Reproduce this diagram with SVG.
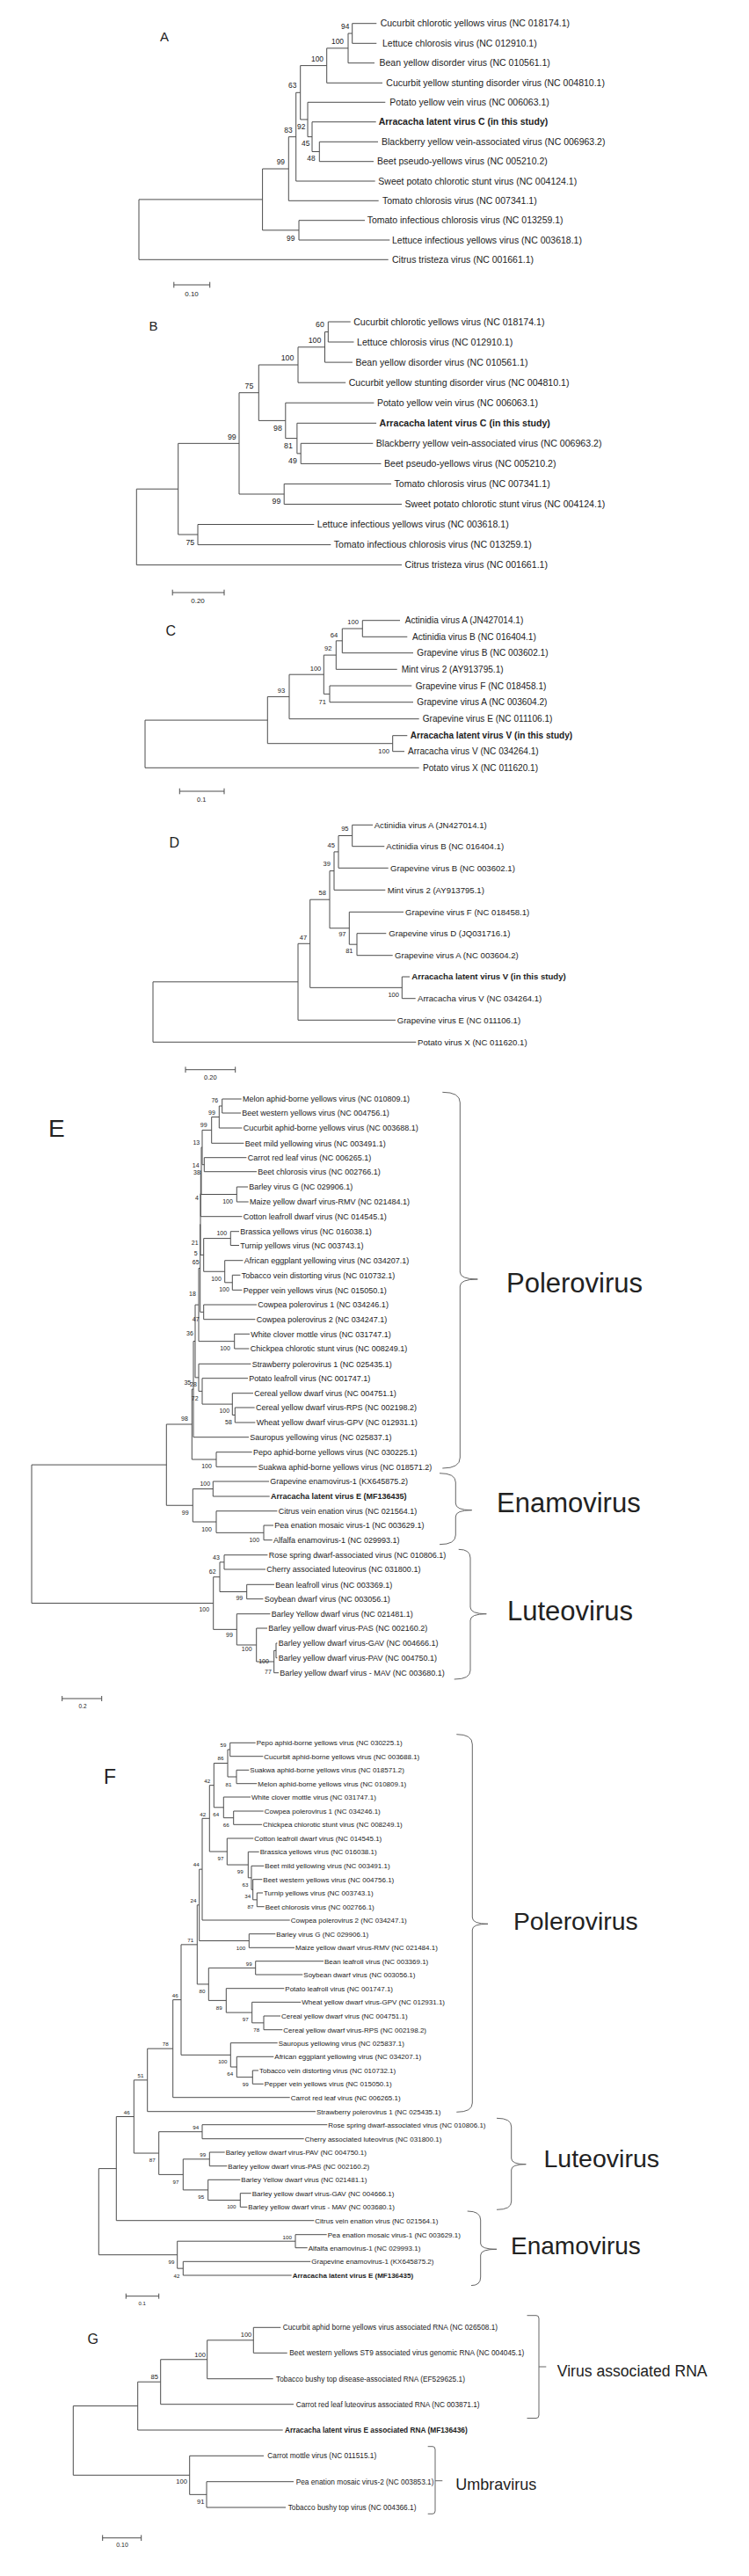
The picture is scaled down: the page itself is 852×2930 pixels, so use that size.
<svg xmlns="http://www.w3.org/2000/svg" width="852" height="2930" viewBox="0 0 852 2930">
<style>
text{font-family:"Liberation Sans",Arial,sans-serif;fill:#222}
.br{fill:none;stroke:#4d4d4d;stroke-width:1}
.bk{fill:none;stroke:#666;stroke-width:1}
.pl{font-size:15px}
.bs{text-anchor:middle;fill:#444}
.b{font-weight:bold}
.cl{fill:#111}
</style>
<rect width="852" height="2930" fill="#fff"/>

<!-- ===== Panel A ===== -->
<g id="panel-A">
<text class="pl" x="187" y="47" text-anchor="middle">A</text>
<g id="A-connectors"><path class="br" d="M400.7,26.7H428.3M400.7,49.3H428.3M400.7,26.7V49.3M396,38H400.7M396,38V71.7M396,71.7H426M371.7,54.85H396M371.7,54.85V94.3M371.7,94.3H435M341.7,74.6H371.7M363.3,161.3H430M363.3,183.7H425M363.3,161.3V183.7M355,172.5H363.3M355,138.7H427.7M355,138.7V172.5M350,155.6H355M350,116.3H438.3M350,116.3V155.6M341.7,135.95H350M341.7,74.6V135.95M336.7,105.3H341.7M336.7,105.3V206M336.7,206H426.7M328.3,155.65H336.7M328.3,155.65V228.3M328.3,228.3H430.7M298.6,192H328.3M340,250.7H415M340,273H443.3M340,250.7V273M298.6,261.85H340M298.6,192V261.85M158,226.9H298.6M158,226.9V295.3M158,295.3H441.7"/></g>
<g id="A-leaves" font-size="10.5">
<text x="432.7" y="30.4">Cucurbit chlorotic yellows virus (NC 018174.1)</text>
<text x="435" y="53">Lettuce chlorosis virus (NC 012910.1)</text>
<text x="431.5" y="75.4">Bean yellow disorder virus (NC 010561.1)</text>
<text x="439.3" y="98">Cucurbit yellow stunting disorder virus (NC 004810.1)</text>
<text x="443.3" y="120">Potato yellow vein virus (NC 006063.1)</text>
<text class="b" x="430.7" y="142.4">Arracacha latent virus C (in this study)</text>
<text x="434" y="165">Blackberry yellow vein-associated virus (NC 006963.2)</text>
<text x="429" y="187.4">Beet pseudo-yellows virus (NC 005210.2)</text>
<text x="430.3" y="209.7">Sweet potato chlorotic stunt virus (NC 004124.1)</text>
<text x="435" y="232">Tomato chlorosis virus (NC 007341.1)</text>
<text x="417.7" y="254.4">Tomato infectious chlorosis virus (NC 013259.1)</text>
<text x="446" y="276.7">Lettuce infectious yellows virus (NC 003618.1)</text>
<text x="446" y="299">Citrus tristeza virus (NC 001661.1)</text>
</g>
<g id="A-bootstrap" class="bs" font-size="8.4">
<text x="392.7" y="32.9">94</text><text x="384" y="50.2">100</text><text x="361" y="69.6">100</text><text x="332.7" y="100.2">63</text><text x="342.7" y="146.9">92</text><text x="328" y="150.6">83</text><text x="347.7" y="166.2">45</text><text x="354" y="182.9">48</text><text x="319.3" y="186.9">99</text><text x="330.7" y="273.6">99</text>
</g>
<g id="A-scale"><path class="br" d="M197.8,324H238.7M197.8,320.7V327.3M238.7,320.7V327.3"/><text x="218" y="337" font-size="8" text-anchor="middle">0.10</text></g>
</g>

<!-- ===== Panel B ===== -->
<g id="panel-B">
<text class="pl" x="174.4" y="376.4" text-anchor="middle">B</text>
<g id="B-connectors"><path class="br" d="M373.3,366H398.7M373.3,389H402.5M373.3,366V389M369.5,377.5H373.3M369.5,377.5V412.1M369.5,412.1H400.9M339,394.8H369.5M339,394.8V435.2M339,435.2H393.2M294.3,415H339M342.2,504.3H424.3M342.2,527.4H433.5M342.2,504.3V527.4M337.9,515.85H342.2M337.9,481.3H428.1M337.9,481.3V515.85M324.8,498.6H337.9M324.8,458.2H425.4M324.8,458.2V498.6M294.3,478.4H324.8M294.3,415V478.4M272,446.7H294.3M323.2,550.4H445M323.2,573.5H457M323.2,550.4V573.5M272,562H323.2M272,446.7V562M202.7,504.35H272M225,596.5H357.3M225,619.6H376.3M225,596.5V619.6M202.7,608H225M202.7,504.35V608M155.3,556.2H202.7M155.3,556.2V642.6M155.3,642.6H457"/></g>
<g id="B-leaves" font-size="10.6">
<text x="402.2" y="369.7">Cucurbit chlorotic yellows virus (NC 018174.1)</text>
<text x="406" y="392.7">Lettuce chlorosis virus (NC 012910.1)</text>
<text x="404.4" y="415.8">Bean yellow disorder virus (NC 010561.1)</text>
<text x="396.7" y="438.9">Cucurbit yellow stunting disorder virus (NC 004810.1)</text>
<text x="428.9" y="461.9">Potato yellow vein virus (NC 006063.1)</text>
<text class="b" x="431.6" y="485">Arracacha latent virus C (in this study)</text>
<text x="427.8" y="508">Blackberry yellow vein-associated virus (NC 006963.2)</text>
<text x="437" y="531.1">Beet pseudo-yellows virus (NC 005210.2)</text>
<text x="448.5" y="554.1">Tomato chlorosis virus (NC 007341.1)</text>
<text x="460.5" y="577.2">Sweet potato chlorotic stunt virus (NC 004124.1)</text>
<text x="360.8" y="600.2">Lettuce infectious yellows virus (NC 003618.1)</text>
<text x="379.8" y="623.3">Tomato infectious chlorosis virus (NC 013259.1)</text>
<text x="460.5" y="646.3">Citrus tristeza virus (NC 001661.1)</text>
</g>
<g id="B-bootstrap" class="bs" font-size="8.8">
<text x="364" y="372.1">60</text><text x="358" y="389.8">100</text><text x="327" y="409.8">100</text><text x="283.4" y="442.1">75</text><text x="316" y="489.8">98</text><text x="328" y="510.4">81</text><text x="333" y="527.1">49</text><text x="314.4" y="573.4">99</text><text x="263.8" y="499.8">99</text><text x="216.3" y="619.8">75</text>
</g>
<g id="B-scale"><path class="br" d="M196.2,674H255M196.2,670.7V677.3M255,670.7V677.3"/><text x="225" y="685.5" font-size="8" text-anchor="middle">0.20</text></g>
</g>

<!-- ===== Panel C ===== -->
<g id="panel-C">
<text x="194.3" y="723.4" font-size="16" text-anchor="middle">C</text>
<g id="C-connectors"><path class="br" d="M412.3,705.7H455M412.3,724.3H463.3M412.3,705.7V724.3M389.3,715H412.3M389.3,715V742.7M389.3,742.7H470M382.3,728.85H389.3M382.3,728.85V761.3M382.3,761.3H451.7M368.3,745.1H382.3M375,780H468.3M375,798.7H470M375,780V798.7M368.3,789.35H375M368.3,745.1V789.35M329,767.2H368.3M329,767.2V817.7M329,817.7H476.7M304.3,792.45H329M446.7,836.7H463.3M446.7,854.7H460M446.7,836.7V854.7M304.3,845.7H446.7M304.3,792.45V845.7M165,819.1H304.3M165,819.1V873.3M165,873.3H476.7"/></g>
<g id="C-leaves" font-size="10.1">
<text x="460.7" y="709.2">Actinidia virus A (JN427014.1)</text>
<text x="469" y="727.8">Actinidia virus B (NC 016404.1)</text>
<text x="474.3" y="746.2">Grapevine virus B (NC 003602.1)</text>
<text x="456.7" y="764.8">Mint virus 2 (AY913795.1)</text>
<text x="472.7" y="783.5">Grapevine virus F (NC 018458.1)</text>
<text x="474.3" y="802.2">Grapevine virus A (NC 003604.2)</text>
<text x="480.7" y="821.2">Grapevine virus E (NC 011106.1)</text>
<text class="b" x="466.7" y="840.2">Arracacha latent virus V (in this study)</text>
<text x="464" y="858.2">Arracacha virus V (NC 034264.1)</text>
<text x="481" y="876.8">Potato virus X (NC 011620.1)</text>
</g>
<g id="C-bootstrap" class="bs" font-size="7.6">
<text x="401.7" y="710">100</text><text x="380" y="724.7">64</text><text x="373.3" y="740.4">92</text><text x="359" y="762.7">100</text><text x="320" y="787.7">93</text><text x="366.7" y="801">71</text><text x="436.7" y="857">100</text>
</g>
<g id="C-scale"><path class="br" d="M204.3,900H255M204.3,896.7V903.3M255,896.7V903.3"/><text x="229.3" y="911.6" font-size="7.5" text-anchor="middle">0.1</text></g>
</g>

<!-- ===== Panel D ===== -->
<g id="panel-D">
<text x="198.3" y="964" font-size="16" text-anchor="middle">D</text>
<g id="D-connectors"><path class="br" d="M400.7,938.3H424M400.7,962.7H437.3M400.7,938.3V962.7M385,950.5H400.7M385,950.5V987.3M385,987.3H441.7M380,968.9H385M380,968.9V1012.3M380,1012.3H438.3M375,990.6H380M406,1061.7H439.3M406,1086.7H446.7M406,1061.7V1086.7M397.3,1074.2H406M397.3,1037.3H459M397.3,1037.3V1074.2M375,1055.75H397.3M375,990.6V1055.75M352.7,1023.2H375M457.3,1111H466M457.3,1135.7H472.7M457.3,1111V1135.7M352.7,1123.35H457.3M352.7,1023.2V1123.35M339,1073.3H352.7M339,1073.3V1160.3M339,1160.3H450M174,1116.8H339M174,1116.8V1185.3M174,1185.3H473.3"/></g>
<g id="D-leaves" font-size="9.6">
<text x="425.7" y="941.7">Actinidia virus A (JN427014.1)</text>
<text x="439.3" y="966.1">Actinidia virus B (NC 016404.1)</text>
<text x="444" y="990.7">Grapevine virus B (NC 003602.1)</text>
<text x="440.7" y="1015.7">Mint virus 2 (AY913795.1)</text>
<text x="461" y="1040.7">Grapevine virus F (NC 018458.1)</text>
<text x="442.3" y="1065.1">Grapevine virus D (JQ031716.1)</text>
<text x="449" y="1090.1">Grapevine virus A (NC 003604.2)</text>
<text class="b" x="468.3" y="1114.4">Arracacha latent virus V (in this study)</text>
<text x="475" y="1139.1">Arracacha virus V (NC 034264.1)</text>
<text x="451.7" y="1163.7">Grapevine virus E (NC 011106.1)</text>
<text x="475" y="1188.7">Potato virus X (NC 011620.1)</text>
</g>
<g id="D-bootstrap" class="bs" font-size="7.5">
<text x="392.3" y="945.3">95</text><text x="376.7" y="964.3">45</text><text x="371.7" y="985.3">39</text><text x="366.7" y="1018.3">58</text><text x="389.3" y="1065.3">97</text><text x="397.3" y="1084.3">81</text><text x="345" y="1068.6">47</text><text x="447.7" y="1133.6">100</text>
</g>
<g id="D-scale"><path class="br" d="M211,1216.7H267.7M211,1213.4V1220M267.7,1213.4V1220"/><text x="239.3" y="1227.6" font-size="7.5" text-anchor="middle">0.20</text></g>
</g>

<!-- ===== Panel E ===== -->
<g id="panel-E">
<text x="64.3" y="1292.7" font-size="28" text-anchor="middle">E</text>
<g id="E-connectors"><path class="br" d="M252.7,1250H274.7M252.7,1266H274M249.3,1283H275.4M240.7,1300.3H277.4M232.3,1316.7H280.4M232.3,1332.7H292M269.3,1350H282M269.3,1367H282.7M228.3,1383.7H275.4M262.3,1400.7H272M262.3,1416.5H272M255.7,1433.7H276.4M264.3,1450.3H273.4M264.3,1467.3H275.4M231.7,1484H292M231.7,1500.7H290.4M266.7,1517.3H284M266.7,1534H283.4M226,1551.3H285.4M230,1567.7H282M264.3,1584.7H288M267.3,1601H289.7M267.3,1618H290.4M220,1634.7H283M246,1651.7H286.7M246,1668.3H292.4M242.3,1685H306M242.3,1702H306.7M246,1718.7H315.4M300,1735H311M300,1751.7H309.7M255,1768.7H304.4M255,1785H302M280.7,1802.3H312M280.7,1818.7H299.4M269.3,1835.7H307.4M291.7,1852H304M314,1869H315.4M314,1885.7H315.4M311.7,1902.7H317M252.7,1250V1266M249.3,1258H252.7M249.3,1258V1283M240.7,1270.5H249.3M240.7,1270.5V1300.3M230,1285.4H240.7M232.3,1316.7V1332.7M230,1324.7H232.3M230,1285.4V1324.7M229,1305.05H230M269.3,1350V1367M229,1358.5H269.3M229,1305.05V1358.5M228.3,1331.8H229M228.3,1331.8V1383.7M228,1357.75H228.3M262.3,1400.7V1416.5M231.7,1408.6H262.3M264.3,1450.3V1467.3M255.7,1458.8H264.3M255.7,1433.7V1458.8M231.7,1446.25H255.7M231.7,1408.6V1446.25M228,1427.4H231.7M228,1357.75V1427.4M227.7,1392.6H228M231.7,1484V1500.7M227.7,1492.35H231.7M227.7,1392.6V1492.35M226,1442.5H227.7M266.7,1517.3V1534M226,1525.65H266.7M226,1442.5V1525.65M222,1484.1H226M267.3,1601V1618M264.3,1609.5H267.3M264.3,1584.7V1609.5M230,1597.1H264.3M230,1567.7V1597.1M226,1582.4H230M226,1551.3V1582.4M222,1566.85H226M222,1484.1V1566.85M220,1525.5H222M220,1525.5V1634.7M218.3,1580.1H220M246,1651.7V1668.3M218.3,1660H246M218.3,1580.1V1660M189.3,1620H218.3M242.3,1685V1702M219.3,1693.5H242.3M300,1735V1751.7M246,1743.35H300M246,1718.7V1743.35M219.3,1731H246M219.3,1693.5V1731M189.3,1712.25H219.3M189.3,1620V1712.25M36,1666.1H189.3M255,1768.7V1785M250,1776.85H255M280.7,1802.3V1818.7M250,1810.5H280.7M250,1776.85V1810.5M242.7,1793.7H250M314,1869V1885.7M311.7,1877.35H314M311.7,1877.35V1902.7M291.7,1890H311.7M291.7,1852V1890M269.3,1871H291.7M269.3,1835.7V1871M242.7,1853.35H269.3M242.7,1793.7V1853.35M36,1823.5H242.7M36,1666.1V1823.5"/>
<path class="bk" d="M503.3,1242.3Q523.3,1242.3 523.3,1254V1447Q523.3,1455 543.3,1455Q523.3,1455 523.3,1463V1658Q523.3,1670 503.3,1670M500,1675.7Q518.3,1675.7 518.3,1686V1710Q518.3,1717.7 536.7,1717.7Q518.3,1717.7 518.3,1725V1746Q518.3,1756.7 500,1756.7M521.7,1762.3Q535,1762.3 535,1772V1828Q535,1835.7 553.3,1835.7Q535,1835.7 535,1843V1900Q535,1910 516.7,1910"/></g>
<g id="E-leaves" font-size="9">
<text x="276" y="1253.2">Melon aphid-borne yellows virus (NC 010809.1)</text>
<text x="275.3" y="1269.2">Beet western yellows virus (NC 004756.1)</text>
<text x="276.7" y="1286.2">Cucurbit aphid-borne yellows virus (NC 003688.1)</text>
<text x="278.7" y="1303.5">Beet mild yellowing virus (NC 003491.1)</text>
<text x="281.7" y="1319.9">Carrot red leaf virus (NC 006265.1)</text>
<text x="293.3" y="1335.9">Beet chlorosis virus (NC 002766.1)</text>
<text x="283.3" y="1353.2">Barley virus G (NC 029906.1)</text>
<text x="284" y="1370.2">Maize yellow dwarf virus-RMV (NC 021484.1)</text>
<text x="276.7" y="1386.9">Cotton leafroll dwarf virus (NC 014545.1)</text>
<text x="273.3" y="1403.9">Brassica yellows virus (NC 016038.1)</text>
<text x="273.3" y="1419.7">Turnip yellows virus (NC 003743.1)</text>
<text x="277.7" y="1436.9">African eggplant yellowing virus (NC 034207.1)</text>
<text x="274.7" y="1453.5">Tobacco vein distorting virus (NC 010732.1)</text>
<text x="276.7" y="1470.5">Pepper vein yellows virus (NC 015050.1)</text>
<text x="293.3" y="1487.2">Cowpea polerovirus 1 (NC 034246.1)</text>
<text x="291.7" y="1503.9">Cowpea polerovirus 2 (NC 034247.1)</text>
<text x="285.3" y="1520.5">White clover mottle virus (NC 031747.1)</text>
<text x="284.7" y="1537.2">Chickpea chlorotic stunt virus (NC 008249.1)</text>
<text x="286.7" y="1554.5">Strawberry polerovirus 1 (NC 025435.1)</text>
<text x="283.3" y="1570.9">Potato leafroll virus (NC 001747.1)</text>
<text x="289.3" y="1587.9">Cereal yellow dwarf virus (NC 004751.1)</text>
<text x="291" y="1604.2">Cereal yellow dwarf virus-RPS (NC 002198.2)</text>
<text x="291.7" y="1621.2">Wheat yellow dwarf virus-GPV (NC 012931.1)</text>
<text x="284.3" y="1637.9">Sauropus yellowing virus (NC 025837.1)</text>
<text x="288" y="1654.9">Pepo aphid-borne yellows virus (NC 030225.1)</text>
<text x="293.7" y="1671.5">Suakwa aphid-borne yellows virus (NC 018571.2)</text>
<text x="307.3" y="1688.2">Grapevine enamovirus-1 (KX645875.2)</text>
<text class="b" x="308" y="1705.2">Arracacha latent virus E (MF136435)</text>
<text x="316.7" y="1721.9">Citrus vein enation virus (NC 021564.1)</text>
<text x="312.3" y="1738.2">Pea enation mosaic virus-1 (NC 003629.1)</text>
<text x="311" y="1754.9">Alfalfa enamovirus-1 (NC 029993.1)</text>
<text x="305.7" y="1771.9">Rose spring dwarf-associated virus (NC 010806.1)</text>
<text x="303.3" y="1788.2">Cherry associated luteovirus (NC 031800.1)</text>
<text x="313.3" y="1805.5">Bean leafroll virus (NC 003369.1)</text>
<text x="300.7" y="1821.9">Soybean dwarf virus (NC 003056.1)</text>
<text x="308.7" y="1838.9">Barley Yellow dwarf virus (NC 021481.1)</text>
<text x="305.3" y="1855.2">Barley yellow dwarf virus-PAS (NC 002160.2)</text>
<text x="316.7" y="1872.2">Barley yellow dwarf virus-GAV (NC 004666.1)</text>
<text x="316.7" y="1888.9">Barley yellow dwarf virus-PAV (NC 004750.1)</text>
<text x="318.3" y="1905.9">Barley yellow dwarf virus - MAV (NC 003680.1)</text>
</g>
<g id="E-bootstrap" class="bs" font-size="7">
<text x="244.3" y="1254.2">76</text><text x="241" y="1267.5">99</text><text x="231.7" y="1281.5">99</text><text x="223.3" y="1301.5">13</text><text x="222.7" y="1328.2">14</text><text x="224" y="1335.8">38</text><text x="224" y="1365.2">4</text><text x="259" y="1369.2">100</text><text x="252.3" y="1404.8">100</text><text x="221.7" y="1415.8">21</text><text x="222.7" y="1427.5">5</text><text x="222.7" y="1437.5">65</text><text x="246" y="1456.5">100</text><text x="255" y="1469.2">100</text><text x="219" y="1474.2">18</text><text x="222.7" y="1503.2">47</text><text x="216" y="1518.5">36</text><text x="256" y="1535.8">100</text><text x="213.3" y="1574.8">35</text><text x="220" y="1576.8">28</text><text x="221.7" y="1593.2">72</text><text x="255.3" y="1606.8">100</text><text x="260" y="1619.8">58</text><text x="210" y="1616.2">98</text><text x="235" y="1669.8">100</text><text x="233.3" y="1689.8">100</text><text x="210.7" y="1722.5">99</text><text x="235" y="1741.8">100</text><text x="289.3" y="1754.2">100</text><text x="246" y="1773.5">43</text><text x="241.7" y="1789.8">62</text><text x="272.3" y="1820.2">99</text><text x="232.3" y="1833.2">100</text><text x="261" y="1861.8">99</text><text x="280.7" y="1877.5">100</text><text x="300" y="1891.5">100</text><text x="305" y="1904.2">77</text>
</g>
<g id="E-clades" class="cl">
<text x="576" y="1470" font-size="31">Polerovirus</text>
<text x="565" y="1720" font-size="31">Enamovirus</text>
<text x="577" y="1843.3" font-size="31">Luteovirus</text>
</g>
<g id="E-scale"><path class="br" d="M70.7,1932H115.7M70.7,1929V1935M115.7,1929V1935"/><text x="94" y="1943" font-size="6.5" text-anchor="middle">0.2</text></g>
</g>

<!-- ===== Panel F ===== -->
<g id="panel-F">
<text x="125" y="2028.5" font-size="23" text-anchor="middle">F</text>
<g id="F-connectors"><path class="br" d="M261.7,1982.3H290.7M261.7,1997.7H299.3M269,2013.3H283.3M269,2028.7H292.3M254.3,2044H285M265.7,2060H299.7M265.7,2075.3H298M258.3,2091H288.3M282.3,2106.3H294.7M286,2122.3H300.3M287.7,2137.7H298.3M292.3,2153H299M292.3,2168.7H300.7M230,2184H329.7M283.3,2199.7H313.3M283.3,2215.3H335M290.7,2230.7H368M290.7,2246H344.3M257.3,2261.7H323.3M286.7,2277.3H342.3M300,2293H319M300,2308.7H321.3M262.3,2323.7H315.7M269.3,2339.3H311.3M287.3,2355H294M287.3,2370.3H299.7M196.7,2385.7H329.7M167.7,2401.7H359M230,2416.7H372.3M230,2432.7H345.7M238.3,2448H255.7M238.3,2463.7H258.3M236.7,2479.3H273.3M273.3,2494.7H285.7M273.3,2510.3H281.3M132.3,2525.7H357.3M336,2541.7H371.7M336,2556.7H349.7M208.3,2572.3H353.3M208.3,2588H331.7M261.7,1982.3V1997.7M259,1990H261.7M269,2013.3V2028.7M259,2021H269M259,1990V2021M243.3,2005.5H259M265.7,2060V2075.3M254.3,2067.65H265.7M254.3,2044V2067.65M243.3,2055.8H254.3M243.3,2005.5V2055.8M238.3,2030.65H243.3M292.3,2153V2168.7M287.7,2160.85H292.3M287.7,2137.7V2160.85M286,2149.3H287.7M286,2122.3V2149.3M282.3,2135.8H286M282.3,2106.3V2135.8M258.3,2121.05H282.3M258.3,2091V2121.05M238.3,2106H258.3M238.3,2030.65V2106M230,2068.3H238.3M230,2068.3V2184M226.7,2126.15H230M283.3,2199.7V2215.3M226.7,2207.5H283.3M226.7,2126.15V2207.5M224.3,2166.8H226.7M290.7,2230.7V2246M237.3,2238.35H290.7M300,2293V2308.7M286.7,2300.85H300M286.7,2277.3V2300.85M257.3,2289.1H286.7M257.3,2261.7V2289.1M237.3,2275.4H257.3M237.3,2238.35V2275.4M224.3,2256.9H237.3M224.3,2166.8V2256.9M206,2211.85H224.3M287.3,2355V2370.3M269.3,2362.65H287.3M269.3,2339.3V2362.65M262.3,2351H269.3M262.3,2323.7V2351M206,2337.35H262.3M206,2211.85V2337.35M196.7,2274.6H206M196.7,2274.6V2385.7M167.7,2330.15H196.7M167.7,2330.15V2401.7M152.3,2365.9H167.7M230,2416.7V2432.7M180.7,2424.7H230M238.3,2448V2463.7M208.3,2455.85H238.3M273.3,2494.7V2510.3M236.7,2502.5H273.3M236.7,2479.3V2502.5M208.3,2490.9H236.7M208.3,2455.85V2490.9M180.7,2473.4H208.3M180.7,2424.7V2473.4M152.3,2449.05H180.7M152.3,2365.9V2449.05M132.3,2407.5H152.3M132.3,2407.5V2525.7M112.3,2466.6H132.3M336,2541.7V2556.7M201.7,2549.2H336M208.3,2572.3V2588M201.7,2580.15H208.3M201.7,2549.2V2580.15M112.3,2564.7H201.7M112.3,2466.6V2564.7"/>
<path class="bk" d="M519.3,1972.7Q537.3,1972.7 537.3,1984V2181Q537.3,2188.3 555,2188.3Q537.3,2188.3 537.3,2195V2392Q537.3,2402.3 519.3,2402.3M565,2409.3Q581.7,2409.3 581.7,2419V2455Q581.7,2461.7 598.3,2461.7Q581.7,2461.7 581.7,2468V2504Q581.7,2513.3 565,2513.3M531.7,2515Q546.7,2515 546.7,2525V2552Q546.7,2558.3 565,2558.3Q546.7,2558.3 546.7,2565V2590Q546.7,2599.6 536,2599.6"/></g>
<g id="F-leaves" font-size="8">
<text x="291.7" y="1985.1">Pepo aphid-borne yellows virus (NC 030225.1)</text>
<text x="300.3" y="2000.5">Cucurbit aphid-borne yellows virus (NC 003688.1)</text>
<text x="284.3" y="2016.1">Suakwa aphid-borne yellows virus (NC 018571.2)</text>
<text x="293.3" y="2031.5">Melon aphid-borne yellows virus (NC 010809.1)</text>
<text x="286" y="2046.8">White clover mottle virus (NC 031747.1)</text>
<text x="300.7" y="2062.8">Cowpea polerovirus 1 (NC 034246.1)</text>
<text x="299" y="2078.1">Chickpea chlorotic stunt virus (NC 008249.1)</text>
<text x="289.3" y="2093.8">Cotton leafroll dwarf virus (NC 014545.1)</text>
<text x="295.7" y="2109.1">Brassica yellows virus (NC 016038.1)</text>
<text x="301.3" y="2125.1">Beet mild yellowing virus (NC 003491.1)</text>
<text x="299.3" y="2140.5">Beet western yellows virus (NC 004756.1)</text>
<text x="300" y="2155.8">Turnip yellows virus (NC 003743.1)</text>
<text x="301.7" y="2171.5">Beet chlorosis virus (NC 002766.1)</text>
<text x="330.7" y="2186.8">Cowpea polerovirus 2 (NC 034247.1)</text>
<text x="314.3" y="2202.5">Barley virus G (NC 029906.1)</text>
<text x="336" y="2218.1">Maize yellow dwarf virus-RMV (NC 021484.1)</text>
<text x="369" y="2233.5">Bean leafroll virus (NC 003369.1)</text>
<text x="345.3" y="2248.8">Soybean dwarf virus (NC 003056.1)</text>
<text x="324.3" y="2264.5">Potato leafroll virus (NC 001747.1)</text>
<text x="343.3" y="2280.1">Wheat yellow dwarf virus-GPV (NC 012931.1)</text>
<text x="320" y="2295.8">Cereal yellow dwarf virus (NC 004751.1)</text>
<text x="322.3" y="2311.5">Cereal yellow dwarf virus-RPS (NC 002198.2)</text>
<text x="316.7" y="2326.5">Sauropus yellowing virus (NC 025837.1)</text>
<text x="312.3" y="2342.1">African eggplant yellowing virus (NC 034207.1)</text>
<text x="295" y="2357.8">Tobacco vein distorting virus (NC 010732.1)</text>
<text x="300.7" y="2373.1">Pepper vein yellows virus (NC 015050.1)</text>
<text x="330.7" y="2388.5">Carrot red leaf virus (NC 006265.1)</text>
<text x="360" y="2404.5">Strawberry polerovirus 1 (NC 025435.1)</text>
<text x="373.3" y="2419.5">Rose spring dwarf-associated virus (NC 010806.1)</text>
<text x="346.7" y="2435.5">Cherry associated luteovirus (NC 031800.1)</text>
<text x="256.7" y="2450.8">Barley yellow dwarf virus-PAV (NC 004750.1)</text>
<text x="259.3" y="2466.5">Barley yellow dwarf virus-PAS (NC 002160.2)</text>
<text x="274.3" y="2482.1">Barley Yellow dwarf virus (NC 021481.1)</text>
<text x="286.7" y="2497.5">Barley yellow dwarf virus-GAV (NC 004666.1)</text>
<text x="282.3" y="2513.1">Barley yellow dwarf virus - MAV (NC 003680.1)</text>
<text x="358.3" y="2528.5">Citrus vein enation virus (NC 021564.1)</text>
<text x="372.7" y="2544.5">Pea enation mosaic virus-1 (NC 003629.1)</text>
<text x="350.7" y="2559.5">Alfalfa enamovirus-1 (NC 029993.1)</text>
<text x="354.3" y="2575.1">Grapevine enamovirus-1 (KX645875.2)</text>
<text class="b" x="332.7" y="2590.8">Arracacha latent virus E (MF136435)</text>
</g>
<g id="F-bootstrap" class="bs" font-size="6.2">
<text x="254" y="1986.5">59</text><text x="251" y="2002.2">86</text><text x="260" y="2031.5">81</text><text x="235.7" y="2027.9">42</text><text x="245.7" y="2066.2">64</text><text x="257.3" y="2077.9">66</text><text x="230.7" y="2065.5">42</text><text x="251" y="2115.5">97</text><text x="273.3" y="2130.9">99</text><text x="279" y="2145.5">63</text><text x="281.7" y="2158.9">34</text><text x="285" y="2171.2">87</text><text x="223.3" y="2123.2">44</text><text x="220" y="2163.9">24</text><text x="274" y="2218.2">100</text><text x="216.7" y="2208.9">71</text><text x="283.3" y="2235.5">99</text><text x="230" y="2266.5">80</text><text x="249.3" y="2285.5">89</text><text x="279.3" y="2298.9">97</text><text x="291.7" y="2310.9">78</text><text x="199.3" y="2271.5">46</text><text x="253.3" y="2347.2">100</text><text x="261.7" y="2360.9">64</text><text x="279.3" y="2372.9">99</text><text x="188.3" y="2327.2">78</text><text x="160" y="2363.2">51</text><text x="144.3" y="2404.5">46</text><text x="222.7" y="2422.2">94</text><text x="230.7" y="2452.9">99</text><text x="173.3" y="2458.9">87</text><text x="200" y="2483.9">97</text><text x="228.7" y="2500.5">95</text><text x="263.3" y="2512.2">100</text><text x="326.7" y="2546.5">100</text><text x="195" y="2574.5">99</text><text x="201" y="2590.5">42</text>
</g>
<g id="F-clades" class="cl">
<text x="584" y="2195" font-size="28.3">Polerovirus</text>
<text x="618.5" y="2465" font-size="28.5">Luteovirus</text>
<text x="581" y="2564" font-size="28">Enamovirus</text>
</g>
<g id="F-scale"><path class="br" d="M143.3,2611.7H180.7M143.3,2608.7V2614.7M180.7,2608.7V2614.7"/><text x="161.7" y="2621.5" font-size="6" text-anchor="middle">0.1</text></g>
</g>

<!-- ===== Panel G ===== -->
<g id="panel-G">
<text x="105.7" y="2665.7" font-size="16" text-anchor="middle">G</text>
<g id="G-connectors"><path class="br" d="M288.3,2647.3H319.3M288.3,2676.3H326.7M288.3,2647.3V2676.3M235.7,2661.8H288.3M235.7,2661.8V2705.7M235.7,2705.7H310.7M182.7,2683.75H235.7M182.7,2683.75V2734.7M182.7,2734.7H334M156.7,2709.2H182.7M156.7,2709.2V2764M156.7,2764H321.7M83.3,2736.6H156.7M235,2822.7H334M235,2852H325M235,2822.7V2852M215.7,2837.35H235M215.7,2793.3H300M215.7,2793.3V2837.35M83.3,2815.3H215.7M83.3,2736.6V2815.3"/>
<path class="bk" d="M599.5,2633.7H610Q613,2633.7 613,2637V2747Q613,2750.5 610,2750.5H599.5M613,2692H621.3M486.7,2782.7H492Q495,2782.7 495,2786V2856Q495,2859.3 492,2859.3H486.7M495,2821.7H503.3"/></g>
<g id="G-leaves" font-size="8.3">
<text x="321.7" y="2650.2">Cucurbit aphid borne yellows virus associated RNA (NC 026508.1)</text>
<text x="329.3" y="2679.2">Beet western yellows ST9 associated virus genomic RNA (NC 004045.1)</text>
<text x="314" y="2708.6">Tobacco bushy top disease-associated RNA (EF529625.1)</text>
<text x="336.7" y="2737.6">Carrot red leaf luteovirus associated RNA (NC 003871.1)</text>
<text class="b" x="324" y="2766.9">Arracacha latent virus E associated RNA (MF136436)</text>
<text x="304.3" y="2796.2">Carrot mottle virus (NC 011515.1)</text>
<text x="336.7" y="2825.6">Pea enation mosaic virus-2 (NC 003853.1)</text>
<text x="327.7" y="2854.9">Tobacco bushy top virus (NC 004366.1)</text>
</g>
<g id="G-bootstrap" class="bs" font-size="7.6">
<text x="280" y="2658.4">100</text><text x="227.7" y="2681">100</text><text x="175.7" y="2706.4">85</text><text x="206.7" y="2825.4">100</text><text x="228.3" y="2847.7">91</text>
</g>
<g id="G-clades" class="cl">
<text x="633.8" y="2703" font-size="17.6">Virus associated RNA</text>
<text x="518.3" y="2831.7" font-size="18">Umbravirus</text>
</g>
<g id="G-scale"><path class="br" d="M116.7,2886.7H160.7M116.7,2883.4V2890M160.7,2883.4V2890"/><text x="139" y="2897.4" font-size="7" text-anchor="middle">0.10</text></g>
</g>
</svg>
